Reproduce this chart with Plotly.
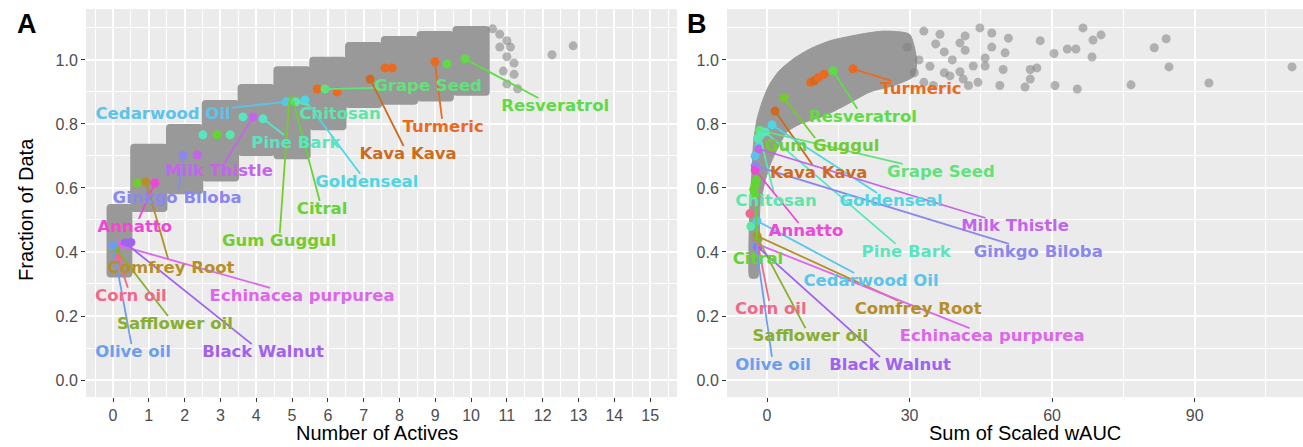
import plotly.graph_objects as go

# ---------------- data ----------------
names = ["Resveratrol", "Grape Seed", "Turmeric", "Kava Kava", "Goldenseal", "Citral",
         "Gum Guggul", "Chitosan", "Cedarwood Oil", "Pine Bark", "Milk Thistle",
         "Ginkgo Biloba", "Annatto", "Comfrey Root", "Echinacea purpurea", "Corn oil",
         "Safflower oil", "Olive oil", "Black Walnut"]

name_colors = ["#5EDC45", "#62E27A", "#EA6A1F", "#CF6B21", "#4ED6E4", "#62D532",
               "#74CC2C", "#5CE6AE", "#5AC4EA", "#58E6C2", "#C464EC",
               "#8A88EE", "#EE48D6", "#B68F2A", "#DE66EC", "#EE6A88",
               "#8AAE2E", "#6C9EF0", "#A062F0"]

# Panel A: grey point clouds per number of actives (fraction range)
a_block_n = [0, 1, 2, 3, 4, 5, 6, 7, 8, 9, 10]
a_block_lo = [0.32, 0.525, 0.58, 0.62, 0.70, 0.69, 0.78, 0.85, 0.86, 0.87, 0.888]
a_block_hi = [0.55, 0.738, 0.80, 0.875, 0.925, 0.98, 1.01, 1.056, 1.075, 1.09, 1.106]

# Panel A: sparse grey points
a_sparse_n = [10.6, 10.8, 11.0, 10.8, 11.1, 11.0, 11.2, 10.9, 11.2, 11.0, 11.3, 12.26, 12.85]
a_sparse_f = [1.097, 1.08, 1.06, 1.04, 1.04, 1.01, 0.99, 0.965, 0.955, 0.925, 0.91, 1.016, 1.044]

# Panel A: labelled points (same order as names)
a_pt_n = [9.83, 5.92, 8.99, 7.18, 5.36, 5.03, 4.92, 5.11, 4.83, 4.19, 3.91,
          1.96, 1.17, 0.92, 0.20, 0.14, 0.08, 0.00, 0.34]
a_pt_f = [1.003, 0.909, 0.994, 0.94, 0.875, 0.872, 0.872, 0.869, 0.869, 0.816, 0.822,
          0.703, 0.616, 0.619, 0.42, 0.38, 0.41, 0.42, 0.428]
a_lab_n = [12.35, 8.8, 9.22, 8.24, 7.09, 5.84, 4.64, 6.34, 1.4, 5.11, 2.96,
           1.79, 0.61, 1.62, 5.28, 0.5, 1.73, 0.56, 4.19]
a_lab_f = [0.853, 0.916, 0.7875, 0.703, 0.616, 0.531, 0.431, 0.828, 0.828, 0.7375, 0.65,
           0.566, 0.475, 0.347, 0.26, 0.26, 0.172, 0.084, 0.084]

# Panel A: extra coloured (unlabelled) points
a_extra_name = ["Turmeric", "Turmeric", "Turmeric", "Turmeric", "Resveratrol", "Pine Bark",
                "Citral", "Chitosan", "Pine Bark", "Milk Thistle", "Gum Guggul", "Black Walnut"]
a_extra_n = [5.7, 6.26, 7.6, 7.8, 9.33, 2.51, 2.9, 3.27, 3.63, 2.35, 0.67, 0.5]
a_extra_f = [0.909, 0.90, 0.975, 0.975, 0.9875, 0.766, 0.766, 0.766, 0.822, 0.703, 0.616, 0.43]

# Panel B: dense cloud envelope (sum of scaled wAUC, fraction)
b_env_x = [-3.6, -3.8, -3.6, -3.2, -2.8, -2.1, -1.0, 0.4, 2.5, 5.7, 9.1, 13.3, 19.6, 24.6, 30.0,
           31.5, 31.0, 26.7, 21.7, 16.2, 12.0, 7.0, 4.2, 2.1, 0.6, -0.6, -1.5, -1.6, -2.0]
b_env_f = [0.32, 0.40, 0.55, 0.64, 0.745, 0.815, 0.87, 0.92, 0.965, 1.005, 1.035, 1.06, 1.08, 1.09, 1.08,
           1.0, 0.95, 0.92, 0.90, 0.856, 0.825, 0.80, 0.775, 0.72, 0.67, 0.61, 0.54, 0.40, 0.32]

# Panel B: sparse grey points
b_sparse_x = [44.8, 41.7, 40.6, 41.7, 47.3, 47.3, 50.8, 50.1, 45.9, 43.4, 45.9, 40.6, 41.3, 42.4,
              44.4, 49.0, 49.7, 54.3, 55.4, 55.4, 56.8, 57.5, 60.4, 60.6, 63.2, 65.0, 65.3, 66.5,
              68.6, 70.3, 68.4, 76.6, 81.5, 84.0, 84.6, 93.0, 110.5,
              33.0, 36.4, 37.3, 34.3, 37.3, 29.5, 31.0, 33.0, 35.0, 38.5, 32.0, 35.5, 39.0]
b_sparse_f = [1.10, 1.075, 1.053, 1.03, 1.084, 1.04, 1.068, 1.022, 1.006, 0.981, 0.981, 0.963, 0.94, 0.92,
              0.93, 0.92, 0.97, 0.915, 0.94, 0.97, 0.975, 1.06, 1.02, 0.92, 1.034, 1.034, 0.909, 1.10,
              1.062, 1.078, 1.009, 0.922, 1.038, 1.066, 0.978, 0.928, 0.978,
              1.09, 1.08, 1.025, 0.98, 0.96, 1.04, 0.96, 0.93, 0.92, 0.95, 1.0, 1.05, 1.0]

# Panel B: labelled points (same order as names)
b_pt_x = [13.9, -1.5, 18.1, 1.7, 1.05, -2.5, 3.6, -1.5, -2.1, -0.4, -1.7,
          -2.5, -2.5, -2.1, -2.1, -2.1, -1.9, -2.3, -1.9]
b_pt_f = [0.966, 0.78, 0.972, 0.84, 0.797, 0.61, 0.881, 0.7625, 0.497, 0.775, 0.722,
          0.669, 0.656, 0.45, 0.425, 0.4375, 0.44, 0.42, 0.415]
b_lab_x = [20.2, 36.6, 32.4, 10.9, 26.1, -1.9, 11.6, 1.9, 21.9, 29.3, 52.2,
           57.1, 8.2, 31.8, 47.4, 0.8, 9.1, 1.3, 25.9]
b_lab_f = [0.819, 0.647, 0.906, 0.644, 0.556, 0.375, 0.728, 0.556, 0.306, 0.397, 0.478,
           0.397, 0.4625, 0.219, 0.134, 0.219, 0.134, 0.044, 0.044]

# Panel B: extra coloured points
b_extra_name = ["Turmeric", "Kava Kava", "Turmeric", "Turmeric", "Citral", "Citral", "Citral",
                "Goldenseal", "Cedarwood Oil", "Corn oil", "Chitosan", "Chitosan"]
b_extra_x = [9.2, 10.0, 10.8, 12.0, -2.8, -2.2, -2.6, -1.7, -2.5, -3.6, -3.4, -2.0]
b_extra_f = [0.93, 0.935, 0.945, 0.955, 0.595, 0.625, 0.58, 0.73, 0.70, 0.52, 0.48, 0.755]

y_ticks = [0.0, 0.2, 0.4, 0.6, 0.8, 1.0]
a_x_ticks = list(range(0, 16))
b_x_ticks = [0, 30, 60, 90]

# ---------------- styling / geometry ----------------
W, H = 1303, 447
A_L, A_R = 86, 677
B_L, B_R = 727, 1303
P_T, P_B = 9, 397
A_XR = [-0.754, 15.75]
B_XR = [-8.42, 112.8]
Y_R = [-0.053, 1.159]

GREY_DENSE = "#999999"
GREY_SPARSE = "rgba(128,128,128,0.55)"
LAB_SIZE = 16.5
col_of = dict(zip(names, name_colors))


def px_per_unit(rng, pix):
    return pix / (rng[1] - rng[0])


def text_w(t, size=LAB_SIZE):
    w = 0.0
    for ch in t:
        if ch == " ":
            w += 0.35
        elif ch in "iljtfr":
            w += 0.42
        elif ch.isupper():
            w += 0.76
        elif ch in "mw":
            w += 0.95
        else:
            w += 0.67
    return w * size


def segment(px, py, lx, ly, sx, sy, text):
    hw = text_w(text) / 2 + 2
    hh = 9
    dx = (lx - px) * sx
    dy = (ly - py) * sy
    cands = []
    if abs(dx) > 1e-9:
        cands.append(hw / abs(dx))
    if abs(dy) > 1e-9:
        cands.append(hh / abs(dy))
    s = min(cands)
    if s >= 1:
        return None
    return [px, lx - s * (lx - px)], [py, ly - s * (ly - py)]


fig = go.Figure()

# ---- Panel A grey blocks ----
a_widths = [0.72 if n == 0 else 1.04 for n in a_block_n]
a_offsets = [-0.18 if n == 0 else -0.52 for n in a_block_n]
fig.add_trace(go.Bar(
    x=a_block_n, y=[h - l for h, l in zip(a_block_hi, a_block_lo)], base=a_block_lo,
    width=a_widths, offset=a_offsets, marker=dict(color=GREY_DENSE, line=dict(width=0), cornerradius=4),
    xaxis="x", yaxis="y", showlegend=False, hoverinfo="skip"))
fig.add_trace(go.Scatter(x=a_sparse_n, y=a_sparse_f, mode="markers",
                         marker=dict(size=9, color=GREY_SPARSE, line=dict(width=0)),
                         xaxis="x", yaxis="y", showlegend=False, hoverinfo="skip"))

# ---- Panel B grey cloud ----
fig.add_trace(go.Scatter(x=b_env_x + [b_env_x[0]], y=b_env_f + [b_env_f[0]], mode="lines",
                         fill="toself", fillcolor=GREY_DENSE,
                         line=dict(color=GREY_DENSE, width=1, shape="spline", smoothing=0.6),
                         xaxis="x2", yaxis="y2", showlegend=False, hoverinfo="skip"))
fig.add_trace(go.Scatter(x=b_sparse_x, y=b_sparse_f, mode="markers",
                         marker=dict(size=9, color=GREY_SPARSE, line=dict(width=0)),
                         xaxis="x2", yaxis="y2", showlegend=False, hoverinfo="skip"))

# ---- coloured points ----
fig.add_trace(go.Scatter(x=a_extra_n, y=a_extra_f, mode="markers",
                         marker=dict(size=9, color=[col_of[n] for n in a_extra_name]),
                         xaxis="x", yaxis="y", showlegend=False, hoverinfo="skip"))
fig.add_trace(go.Scatter(x=b_extra_x, y=b_extra_f, mode="markers",
                         marker=dict(size=9, color=[col_of[n] for n in b_extra_name]),
                         xaxis="x2", yaxis="y2", showlegend=False, hoverinfo="skip"))
fig.add_trace(go.Scatter(x=a_pt_n, y=a_pt_f, mode="markers",
                         marker=dict(size=9, color=name_colors),
                         xaxis="x", yaxis="y", showlegend=False, hoverinfo="skip"))
fig.add_trace(go.Scatter(x=b_pt_x, y=b_pt_f, mode="markers",
                         marker=dict(size=9, color=name_colors),
                         xaxis="x2", yaxis="y2", showlegend=False, hoverinfo="skip"))

# ---- segments ----
sxa = px_per_unit(A_XR, A_R - A_L)
sxb = px_per_unit(B_XR, B_R - B_L)
sy = px_per_unit(Y_R, P_B - P_T)
for i, nm in enumerate(names):
    sa = segment(a_pt_n[i], a_pt_f[i], a_lab_n[i], a_lab_f[i], sxa, sy, nm)
    if sa:
        fig.add_trace(go.Scatter(x=sa[0], y=sa[1], mode="lines",
                                 line=dict(color=name_colors[i], width=1.8),
                                 xaxis="x", yaxis="y", showlegend=False, hoverinfo="skip"))
    sb = segment(b_pt_x[i], b_pt_f[i], b_lab_x[i], b_lab_f[i], sxb, sy, nm)
    if sb:
        fig.add_trace(go.Scatter(x=sb[0], y=sb[1], mode="lines",
                                 line=dict(color=name_colors[i], width=1.8),
                                 xaxis="x2", yaxis="y2", showlegend=False, hoverinfo="skip"))

# ---- labels ----
lab_font = dict(family="DejaVu Sans", size=LAB_SIZE, color=name_colors)
fig.add_trace(go.Scatter(x=a_lab_n, y=a_lab_f, mode="text",
                         text=["<b>%s</b>" % n for n in names], textposition="middle center",
                         textfont=lab_font, xaxis="x", yaxis="y", showlegend=False, hoverinfo="skip"))
fig.add_trace(go.Scatter(x=b_lab_x, y=b_lab_f, mode="text",
                         text=["<b>%s</b>" % n for n in names], textposition="middle center",
                         textfont=lab_font, xaxis="x2", yaxis="y2", showlegend=False, hoverinfo="skip"))

tick_font = dict(family="Liberation Sans, Arial, sans-serif", size=16, color="#4D4D4D")
common_axis = dict(showgrid=True, gridcolor="white", gridwidth=1.8, zeroline=False, showline=False,
                   ticks="outside", ticklen=4, tickwidth=1.3, tickcolor="#333333", tickfont=tick_font)

fig.update_layout(
    width=W, height=H, margin=dict(l=0, r=0, t=0, b=0, autoexpand=False),
    paper_bgcolor="white", plot_bgcolor="#EBEBEB", showlegend=False, barmode="overlay",
    xaxis=dict(domain=[A_L / W, A_R / W], range=A_XR, tickvals=a_x_ticks, anchor="y",
               minor=dict(dtick=0.5, tick0=0, showgrid=True, gridcolor="white", gridwidth=0.9),
               **common_axis),
    yaxis=dict(domain=[1 - P_B / H, 1 - P_T / H], range=Y_R, tickvals=y_ticks,
               ticktext=["%.1f" % v for v in y_ticks], anchor="x",
               minor=dict(dtick=0.1, tick0=0, showgrid=True, gridcolor="white", gridwidth=0.9),
               **common_axis),
    xaxis2=dict(domain=[B_L / W, B_R / W], range=B_XR, tickvals=b_x_ticks, anchor="y2",
                minor=dict(dtick=15, tick0=0, showgrid=True, gridcolor="white", gridwidth=0.9),
                **common_axis),
    yaxis2=dict(domain=[1 - P_B / H, 1 - P_T / H], range=Y_R, tickvals=y_ticks,
                ticktext=["%.1f" % v for v in y_ticks], anchor="x2",
                minor=dict(dtick=0.1, tick0=0, showgrid=True, gridcolor="white", gridwidth=0.9),
                **common_axis),
)

title_font = dict(family="Liberation Sans, Arial, sans-serif", size=20, color="black")
tag_font = dict(family="Liberation Sans, Arial, sans-serif", size=27, color="black")
annos = [
    dict(text="<b>A</b>", x=27 / W, y=1 - 24 / H, font=tag_font),
    dict(text="<b>B</b>", x=697 / W, y=1 - 24 / H, font=tag_font),
    dict(text="Number of Actives", x=377 / W, y=1 - 433 / H, font=title_font),
    dict(text="Sum of Scaled wAUC", x=1025 / W, y=1 - 433 / H, font=title_font),
    dict(text="Fraction of Data", x=26 / W, y=1 - 210 / H, font=title_font, textangle=-90),
]
for a in annos:
    a.update(xref="paper", yref="paper", showarrow=False, xanchor="center", yanchor="middle")
fig.update_layout(annotations=annos)

fig.write_html("out.html", config={"displayModeBar": False},
               post_script="document.body.style.margin='0px';")
